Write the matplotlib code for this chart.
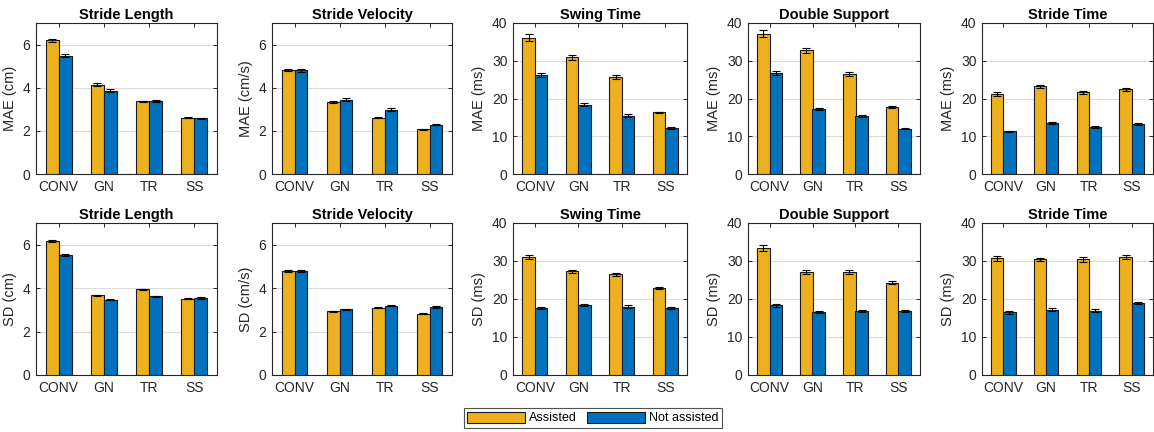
import matplotlib
matplotlib.use("Agg")
import matplotlib.pyplot as plt
import numpy as np
from matplotlib.patches import Patch

plt.rcParams['font.family'] = ['Liberation Sans', 'DejaVu Sans']

categories = ["CONV", "GN", "TR", "SS"]
titles = ["Stride Length", "Stride Velocity", "Swing Time", "Double Support", "Stride Time"]
units = ["cm", "cm/s", "ms", "ms", "ms"]
series_names = ["Assisted", "Not assisted"]

# MAE row
mae_assisted = [
    [6.20, 4.13, 3.37, 2.61],
    [4.82, 3.33, 2.61, 2.07],
    [36.1, 30.9, 25.7, 16.3],
    [37.2, 32.8, 26.5, 17.7],
    [21.1, 23.2, 21.6, 22.4],
]
mae_assisted_err = [
    [0.06, 0.07, 0.03, 0.02],
    [0.05, 0.04, 0.03, 0.02],
    [0.9, 0.6, 0.6, 0.2],
    [0.9, 0.7, 0.6, 0.3],
    [0.5, 0.3, 0.4, 0.4],
]
mae_not = [
    [5.48, 3.86, 3.37, 2.58],
    [4.82, 3.45, 2.99, 2.28],
    [26.2, 18.3, 15.4, 12.2],
    [26.7, 17.3, 15.3, 12.0],
    [11.3, 13.6, 12.4, 13.2],
]
mae_not_err = [
    [0.06, 0.07, 0.04, 0.02],
    [0.07, 0.07, 0.06, 0.03],
    [0.5, 0.4, 0.4, 0.2],
    [0.5, 0.3, 0.3, 0.1],
    [0.2, 0.3, 0.3, 0.2],
]

# SD row
sd_assisted = [
    [6.17, 3.67, 3.94, 3.52],
    [4.80, 2.93, 3.10, 2.83],
    [31.1, 27.3, 26.5, 22.9],
    [33.4, 27.1, 27.1, 24.3],
    [30.7, 30.4, 30.4, 31.1],
]
sd_assisted_err = [
    [0.05, 0.03, 0.03, 0.03],
    [0.04, 0.03, 0.03, 0.03],
    [0.6, 0.4, 0.4, 0.2],
    [0.7, 0.5, 0.5, 0.4],
    [0.6, 0.5, 0.6, 0.6],
]
sd_not = [
    [5.54, 3.47, 3.63, 3.55],
    [4.80, 3.02, 3.19, 3.12],
    [17.6, 18.4, 18.0, 17.6],
    [18.3, 16.6, 16.8, 16.8],
    [16.5, 17.2, 16.9, 18.9],
]
sd_not_err = [
    [0.04, 0.02, 0.03, 0.05],
    [0.05, 0.03, 0.03, 0.04],
    [0.3, 0.3, 0.3, 0.3],
    [0.5, 0.2, 0.2, 0.2],
    [0.4, 0.4, 0.4, 0.3],
]

ylims = [7, 7, 40, 40, 40]
yticks = [[0, 2, 4, 6], [0, 2, 4, 6], [0, 10, 20, 30, 40], [0, 10, 20, 30, 40], [0, 10, 20, 30, 40]]

c_yellow = "#EDB120"
c_blue = "#0072BD"

W, H = 1154, 432
fig = plt.figure(figsize=(W / 100, H / 100), dpi=100)

lefts = [36, 272, 513, 748, 982]
rights = [217, 452, 687, 920, 1153]
rows = [(23, 174), (223, 375)]

bw = 0.286
x = np.arange(1, len(categories) + 1)

datasets = [
    ("MAE", mae_assisted, mae_assisted_err, mae_not, mae_not_err),
    ("SD", sd_assisted, sd_assisted_err, sd_not, sd_not_err),
]

for r, (top, bot) in enumerate(rows):
    prefix, ya, yae, yn, yne = datasets[r]
    for i in range(5):
        l, rr = lefts[i], rights[i]
        ax = fig.add_axes([l / W, (H - bot) / H, (rr - l) / W, (bot - top) / H])
        ax.bar(x - bw / 2, ya[i], bw, color=c_yellow, edgecolor="#1a1a1a", linewidth=0.8, zorder=3)
        ax.bar(x + bw / 2, yn[i], bw, color=c_blue, edgecolor="#1a1a1a", linewidth=0.8, zorder=3)
        ax.errorbar(x - bw / 2, ya[i], yerr=yae[i], fmt="none", ecolor="black",
                    elinewidth=0.8, capsize=3.2, capthick=0.8, zorder=4)
        ax.errorbar(x + bw / 2, yn[i], yerr=yne[i], fmt="none", ecolor="black",
                    elinewidth=0.8, capsize=3.2, capthick=0.8, zorder=4)
        ax.set_xlim(0.5, 4.5)
        ax.set_ylim(0, ylims[i])
        ax.set_xticks(x)
        ax.set_xticklabels(categories)
        ax.set_yticks(yticks[i])
        ax.yaxis.grid(True, color="#dcdcdc", linewidth=0.8, zorder=0)
        ax.set_axisbelow(True)
        ax.tick_params(direction="in", top=True, right=True, length=3, width=0.7,
                       labelsize=10, colors="#262626", pad=4)
        for s in ax.spines.values():
            s.set_linewidth(0.8)
            s.set_color("#262626")
        ax.set_title(titles[i], fontsize=10.5, fontweight="bold", pad=3)
        ax.set_ylabel(f"{prefix} ({units[i]})", fontsize=10.5, color="#262626", labelpad=4)

handles = [Patch(facecolor=c_yellow, edgecolor="#1a1a1a", linewidth=0.8),
           Patch(facecolor=c_blue, edgecolor="#1a1a1a", linewidth=0.8)]
leg = fig.legend(handles, series_names, loc="center", bbox_to_anchor=(593 / W, (H - 418) / H),
                 ncol=2, fontsize=9, frameon=True, fancybox=False, edgecolor="#262626",
                 handlelength=4.6, handleheight=1.0, handletextpad=0.35, columnspacing=0.8,
                 borderpad=0.3, borderaxespad=0)
leg.get_frame().set_linewidth(0.8)

fig.savefig("out.png", dpi=100)
